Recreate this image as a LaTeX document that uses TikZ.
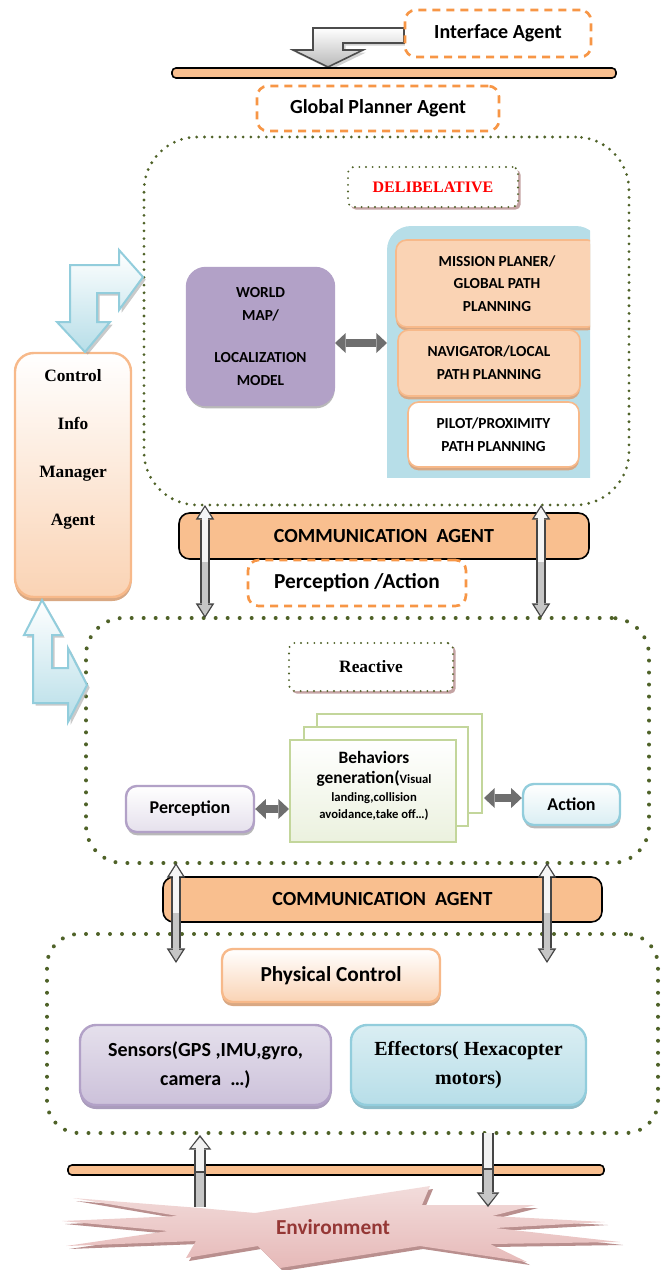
\documentclass[tikz,border=0pt]{standalone}
\usepackage{fontspec}
\setmainfont{Carlito}
\newfontfamily\timesbf{Liberation Serif}
\usepackage{tikz}
\usetikzlibrary{arrows.meta, positioning, shadows, calc}

\definecolor{dotgreen}{HTML}{4F6228}
\definecolor{dashorange}{HTML}{F79646}
\definecolor{barorange}{HTML}{F9BF8F}
\definecolor{peach}{HTML}{FAD3B4}
\definecolor{peachline}{HTML}{F7B98A}
\definecolor{peachshade}{HTML}{D9A883}
\definecolor{lilac}{HTML}{B2A1C7}
\definecolor{lilaclight}{HTML}{E5E0EC}
\definecolor{lilacmid}{HTML}{CCC1DA}
\definecolor{skyblue}{HTML}{B7DEE8}
\definecolor{skylight}{HTML}{DAEEF3}
\definecolor{skyline}{HTML}{92CDDC}
\definecolor{leafline}{HTML}{C3D69B}
\definecolor{leaflight}{HTML}{EBF1DE}
\definecolor{rosy}{HTML}{E6B9B8}
\definecolor{rosylight}{HTML}{F2DCDB}
\definecolor{rosyshade}{HTML}{B98F8E}
\definecolor{envred}{HTML}{953735}
\definecolor{tagshade}{HTML}{C4A3A3}
\definecolor{arrowgray}{HTML}{6E6E6E}

\begin{document}
\begin{tikzpicture}[x=0.75pt, y=-0.75pt,
    boxsize/.style 2 args={minimum width=#1*0.75pt, minimum height=#2*0.75pt},
    dashbox/.style={draw=dashorange, fill=white, line width=2pt, dash pattern=on 6pt off 4.5pt, rounded corners=8pt, inner sep=0pt, font=\bfseries\fontsize{15}{18}\selectfont},
    bar/.style={draw=black, line width=1.2pt, fill=barorange, rounded corners=3pt, inner sep=0pt},
    commbar/.style={bar, rounded corners=8pt, font=\bfseries\fontsize{15}{18}\selectfont},
    zone/.style={draw=dotgreen, line width=3pt, dash pattern=on 0pt off 9pt, line cap=round, inner sep=0pt},
    tag/.style={draw=dotgreen, line width=1.6pt, dash pattern=on 0pt off 5pt, line cap=round, rounded corners=4pt, fill=white, inner sep=0pt, drop shadow={shadow xshift=2pt, shadow yshift=-2pt, fill=tagshade, opacity=1}, font=\timesbf\bfseries\fontsize{13}{15}\selectfont},
    planbox/.style={draw=peachline, fill=peach, line width=1.2pt, rounded corners=8pt, inner sep=0pt, align=center, drop shadow={shadow xshift=0pt, shadow yshift=-2.5pt, fill=peachshade, opacity=1}, font=\bfseries\fontsize{11.5}{17}\selectfont},
    softbox/.style={line width=1.8pt, rounded corners=8pt, inner sep=0pt, align=center, drop shadow={shadow xshift=0.5pt, shadow yshift=-2.5pt, fill=gray!55, opacity=1}},
    page/.style={draw=leafline, fill=white, line width=1.5pt, inner sep=0pt},
    twoway/.style={draw=arrowgray, line width=6pt, {Triangle[width=15pt,length=8pt,line width=0pt]}-{Triangle[width=15pt,length=8pt,line width=0pt]}},
    blockouter/.style={draw=gray!55!black, line width=7.5pt, {Triangle[width=14pt,length=11pt,line width=0pt]}-{Triangle[width=14pt,length=11pt,line width=0pt]}},
    blockinner/.style={line width=5pt, shorten >=1.8pt, -{Triangle[width=10pt,length=8pt,line width=0pt]}},
    oneouter/.style={draw=gray!55!black, line width=9pt, -{Triangle[width=17pt,length=11pt,line width=0pt]}},
    oneinner/.style={line width=6.4pt, shorten >=1.8pt, -{Triangle[width=13pt,length=8pt,line width=0pt]}},
    bluearrow/.style={draw=skyline, line width=1.5pt, top color=white, bottom color=skyblue, drop shadow={shadow xshift=2pt, shadow yshift=-2pt, fill=gray!70, opacity=0.6}},
    grayarrow/.style={draw=gray!60!black, line width=1.2pt, top color=white, bottom color=gray!55, drop shadow={shadow xshift=2pt, shadow yshift=-2pt, fill=gray!60, opacity=0.6}}]
    \useasboundingbox (0,0) rectangle (668,1270);

    \path[grayarrow] (404,28) -- (313,28) -- (313,50) -- (293,50) -- (328,67) -- (363,50) -- (343,50) -- (343,43) -- (404,43) -- cycle;
    \node[dashbox, boxsize={186}{47}] (iface) at (498,33.5) {Interface Agent};
    \node[bar, boxsize={444}{10}] (topbar) at (394,73) {};
    \node[dashbox, boxsize={242}{45}] (gplan) at (378,108.5) {Global Planner Agent};

    \node[zone, line width=2.3pt, dash pattern=on 0pt off 5.8pt, rounded corners=40pt, boxsize={485}{368}] (delib) at (386.5,321) {};
    \node[tag, text=red, font=\timesbf\bfseries\fontsize{12}{14}\selectfont, boxsize={170}{40}] (dtag) at (433,187) {DELIBELATIVE};

    \begin{scope}
        \clip (0,0) rectangle (590,477);
        \fill[skyblue, rounded corners=18pt] (387,226) rectangle (600,520);
        \node[planbox, boxsize={202}{87}] (mission) at (497,283.5) {MISSION PLANER/\\GLOBAL PATH\\PLANNING};
        \node[planbox, boxsize={182}{66}] (nav) at (489,363) {NAVIGATOR/LOCAL\\PATH PLANNING};
        \node[planbox, fill=white, boxsize={171}{65}] (pilot) at (493.5,434.5) {PILOT/PROXIMITY\\PATH PLANNING};
    \end{scope}
    \coordinate (panelw) at (387,343);

    \node[softbox, fill=lilac, draw=lilac, rounded corners=14pt, font=\bfseries\fontsize{11.5}{17.25}\selectfont, boxsize={147}{137}] (wmap) at (260.5,336.5) {WORLD\\MAP/\\[14pt]LOCALIZATION\\MODEL};
    \coordinate (wmape) at (335,343);
    \draw[twoway] (wmape) -- (panelw);

    \node[softbox, top color=white, bottom color=peach, draw=peachline, rounded corners=14pt, drop shadow={shadow xshift=0pt, shadow yshift=-3pt, fill=peachshade, opacity=1}, boxsize={116}{244}] (ctrl) at (73,475) {};
    \node[font=\timesbf\bfseries\fontsize{13}{36}\selectfont, align=center] (ctrltxt) at (73,449) {Control\\Info\\Manager\\Agent};

    \node[commbar, boxsize={410}{46}] (comm1) at (384,536) {COMMUNICATION~~AGENT};
    \node[dashbox, font=\bfseries\fontsize{16}{19}\selectfont, boxsize={218}{46}] (percact) at (357,583) {Perception /Action};

    \node[zone, rounded corners=28pt, boxsize={563}{245}] (react) at (367.5,740.5) {};
    \node[tag, boxsize={164}{48}] (rtag) at (371,667) {Reactive};

    \node[page, boxsize={165}{99}] (back) at (399.5,763.5) {};
    \node[page, boxsize={164}{99}] (mid) at (386,776.5) {};
    \node[page, top color=white, bottom color=leaflight, boxsize={166}{102}] (beh) at (373,791) {};
    \node[align=center, font=\bfseries\fontsize{9.5}{12.75}\selectfont] (behtxt) at (374,786) {{\fontsize{13}{17}\selectfont Behaviors}\\[2pt]{\fontsize{13}{17}\selectfont generation(}Visual\\[1pt]landing,collision\\avoidance,take off…)};

    \node[softbox, top color=white, bottom color=lilaclight, draw=lilac, font=\bfseries\fontsize{13.5}{16}\selectfont, boxsize={128}{46}] (perc) at (190,809) {Perception};
    \node[softbox, top color=white, bottom color=skylight, draw=skyline, font=\bfseries\fontsize{13.5}{16}\selectfont, boxsize={97}{41}] (action) at (571.5,804.5) {Action};
    \coordinate (behe) at (484,798);
    \draw[twoway] (perc.east) -- (perc.east -| beh.west);
    \draw[twoway] (behe) -- (behe -| action.west);

    \node[commbar, boxsize={439}{45}] (comm2) at (382.5,899.5) {COMMUNICATION~~AGENT};

    \node[zone, rounded corners=24pt, boxsize={611}{199}] (phys) at (352.5,1033.5) {};
    \node[softbox, top color=white, bottom color=peach, draw=peachline, font=\bfseries\fontsize{16}{19}\selectfont, drop shadow={shadow xshift=0pt, shadow yshift=-3pt, fill=peachshade, opacity=1}, boxsize={218}{53}] (pctrl) at (331,975.5) {Physical Control};
    \node[softbox, top color=lilaclight, bottom color=lilacmid, draw=lilac, rounded corners=12pt, font=\bfseries\fontsize{15}{22}\selectfont, drop shadow={shadow xshift=0pt, shadow yshift=-3pt, fill=lilac!85!gray, opacity=1}, boxsize={251}{80}] (sens) at (205.5,1065) {Sensors(GPS ,IMU,gyro,\\camera~~…)};
    \node[softbox, top color=skylight, bottom color=skyblue, draw=skyline, rounded corners=12pt, font=\timesbf\bfseries\fontsize{15}{22}\selectfont, drop shadow={shadow xshift=0pt, shadow yshift=-3pt, fill=skyline!80!gray, opacity=1}, boxsize={235}{80}] (effe) at (468.5,1065) {Effectors( Hexacopter\\motors)};

    \node[bar, boxsize={536}{10}] (lowbar) at (336,1170) {};

    \fill[rosyshade] (65,1224) -- (181,1219) -- (76,1201) -- (203,1211) -- (258,1216) -- (433,1189) -- (425,1208) -- (538,1208) -- (495,1219) -- (608,1225) -- (498,1231) -- (623,1245) -- (493,1247) -- (530,1265) -- (423,1249) -- (283,1271) -- (261,1249) -- (189,1261) -- (199,1244) -- (69,1249) -- (171,1234) -- cycle;
    \shade[top color=rosylight, bottom color=rosy] (62,1221) -- (178,1216) -- (73,1198) -- (200,1208) -- (255,1213) -- (430,1186) -- (422,1205) -- (535,1205) -- (492,1216) -- (605,1222) -- (495,1228) -- (620,1242) -- (490,1244) -- (527,1262) -- (420,1246) -- (280,1268) -- (258,1246) -- (186,1258) -- (196,1241) -- (66,1246) -- (168,1231) -- cycle;
    \node[font=\bfseries\fontsize{16}{19}\selectfont, text=envred] (env) at (333,1227) {Environment};

    \path[bluearrow] (70,265) -- (119,265) -- (119,250) -- (143,277) -- (119,310) -- (119,293) -- (97,293) -- (97,322) -- (110,322) -- (85,352) -- (57,322) -- (70,322) -- cycle;
    \path[bluearrow] (42,600) -- (62,635) -- (52,635) -- (52,668) -- (68,668) -- (68,648) -- (87,685) -- (68,722) -- (68,703) -- (33,703) -- (33,635) -- (24,635) -- cycle;

    \coordinate (da) at (205,505);
    \coordinate (ra) at (205,618);
    \coordinate (db) at (541,505);
    \coordinate (rb) at (541,618);
    \coordinate (rc) at (176,863);
    \coordinate (pc) at (176,963);
    \coordinate (rd) at (547,863);
    \coordinate (pd) at (547,963);
    \foreach \a/\b in {da/ra, db/rb, rc/pc, rd/pd} {
        \draw[blockouter] (\a) -- (\b);
        \draw[blockinner, draw=gray!8] ($(\a)!0.5!(\b)$) -- (\a);
        \draw[blockinner, draw=gray!45] ($(\a)!0.5!(\b)$) -- (\b);
    }
    \coordinate (envup) at (200,1207);
    \coordinate (physup) at (200,1135);
    \coordinate (physdown) at (488,1133);
    \coordinate (envdown) at (488,1207);
    \draw[oneouter] (envup) -- (physup);
    \draw[oneinner, draw=gray!45, -] (envup) -- ($(envup)!0.5!(physup)$);
    \draw[oneinner, draw=gray!10] ($(envup)!0.5!(physup)$) -- (physup);
    \draw[oneouter] (physdown) -- (envdown);
    \draw[oneinner, draw=gray!10, -] (physdown) -- ($(physdown)!0.5!(envdown)$);
    \draw[oneinner, draw=gray!45] ($(physdown)!0.5!(envdown)$) -- (envdown);
\end{tikzpicture}
\end{document}
